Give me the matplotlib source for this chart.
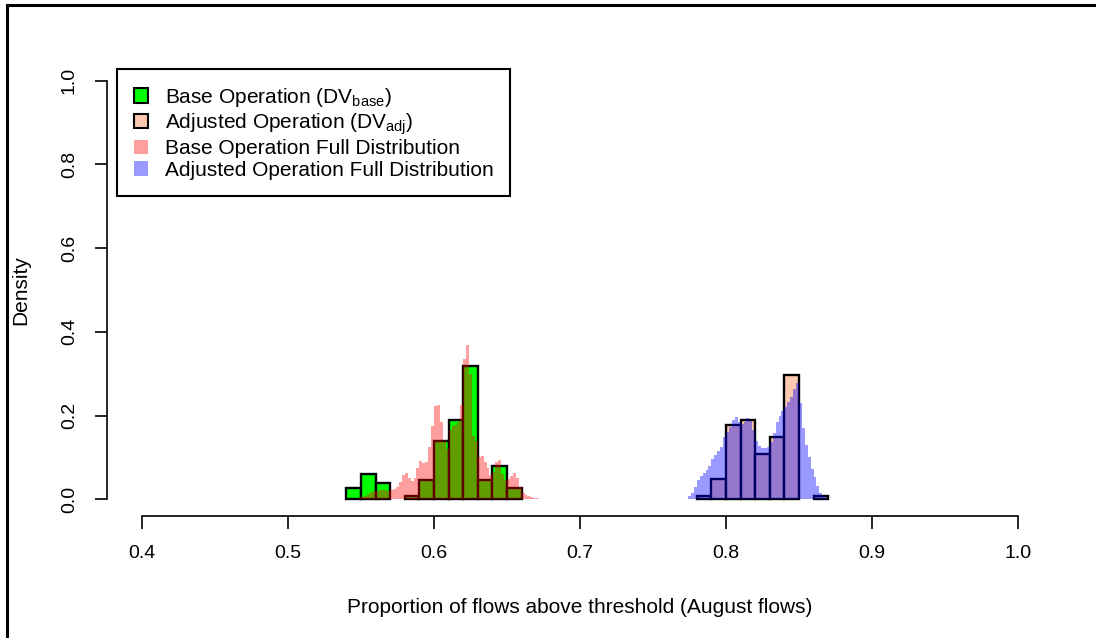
import numpy as np
import matplotlib
matplotlib.use("Agg")
import matplotlib.pyplot as plt
from matplotlib.patches import Patch
from matplotlib.lines import Line2D

# ---------------- data ----------------
bin_width = 0.01
base_edges_start = 0.54
base_props = [0.026, 0.060, 0.039, 0.0, 0.007, 0.047, 0.140, 0.189, 0.318, 0.047, 0.080, 0.026]
adj_edges_start = 0.78
adj_props = [0.008, 0.049, 0.177, 0.189, 0.107, 0.148, 0.297, 0.0, 0.008]

full_bin = 0.002
base_full_start = 0.548
base_full = [0.002, 0.005, 0.007, 0.012, 0.018, 0.020, 0.020, 0.021, 0.022, 0.022,
             0.020, 0.022, 0.025, 0.030, 0.042, 0.058, 0.062, 0.050, 0.043, 0.051,
             0.075, 0.092, 0.086, 0.090, 0.125, 0.175, 0.222, 0.225, 0.185, 0.140,
             0.120, 0.165, 0.175, 0.178, 0.185, 0.225, 0.335, 0.369, 0.300, 0.150,
             0.140, 0.100, 0.104, 0.090, 0.075, 0.058, 0.065, 0.090, 0.095, 0.060,
             0.045, 0.048, 0.055, 0.062, 0.050, 0.030, 0.015, 0.010, 0.007, 0.005,
             0.004, 0.003]
adj_full_start = 0.774
adj_full = [0.008, 0.016, 0.030, 0.046, 0.055, 0.063, 0.071, 0.080, 0.096, 0.106,
            0.116, 0.126, 0.148, 0.160, 0.172, 0.190, 0.197, 0.185, 0.180, 0.185,
            0.193, 0.187, 0.165, 0.140, 0.128, 0.122, 0.122, 0.126, 0.136, 0.158,
            0.185, 0.200, 0.212, 0.220, 0.232, 0.245, 0.263, 0.277, 0.230, 0.170,
            0.130, 0.100, 0.072, 0.052, 0.032, 0.016, 0.008, 0.004]

x_ticks = [0.4, 0.5, 0.6, 0.7, 0.8, 0.9, 1.0]
y_ticks = [0.0, 0.2, 0.4, 0.6, 0.8, 1.0]
legend_labels = [r"Base Operation (DV$_{\mathrm{base}}$)",
                 r"Adjusted Operation (DV$_{\mathrm{adj}}$)",
                 "Base Operation Full Distribution",
                 "Adjusted Operation Full Distribution"]

# ---------------- style ----------------
plt.rcParams["font.family"] = ["Liberation Sans", "DejaVu Sans"]
plt.rcParams["mathtext.fontset"] = "custom"
plt.rcParams["mathtext.rm"] = "Liberation Sans"
plt.rcParams["mathtext.it"] = "Liberation Sans"

GREEN = "#00FF00"
PEACH = "#FCC9AE"
RED_A = (1.0, 0.0, 0.0, 0.38)
BLUE_A = (0.0, 0.0, 1.0, 0.4)

W, H = 1096, 638
fig = plt.figure(figsize=(W / 100, H / 100), dpi=100)
ax = fig.add_axes([107 / W, 1 - 516 / H, (1053 - 107) / W, (516 - 64) / H])

def edges(start, n, w):
    return start + w * np.arange(n + 1)

be = edges(base_edges_start, len(base_props), bin_width)
for l, h in zip(be[:-1], base_props):
    if h > 0:
        ax.bar(l, h, width=bin_width, align="edge", facecolor=GREEN,
               edgecolor="black", linewidth=1.7, zorder=2)
ae = edges(adj_edges_start, len(adj_props), bin_width)
for l, h in zip(ae[:-1], adj_props):
    if h > 0:
        ax.bar(l, h, width=bin_width, align="edge", facecolor=PEACH,
               edgecolor="black", linewidth=1.7, zorder=2)

ax.stairs(base_full, edges(base_full_start, len(base_full), full_bin),
          fill=True, color=RED_A, linewidth=0, zorder=3)
ax.stairs(adj_full, edges(adj_full_start, len(adj_full), full_bin),
          fill=True, color=BLUE_A, linewidth=0, zorder=3)

ax.set_xlim(0.376, 1.024)
ax.set_ylim(-0.04, 1.04)
for s in ["top", "right"]:
    ax.spines[s].set_visible(False)
ax.spines["bottom"].set_bounds(0.4, 1.0)
ax.spines["left"].set_bounds(0.0, 1.0)
for s in ["bottom", "left"]:
    ax.spines[s].set_linewidth(1.2)
ax.set_xticks(x_ticks)
ax.set_xticklabels([f"{v:.1f}" for v in x_ticks])
ax.set_yticks(y_ticks)
ax.set_yticklabels([f"{v:.1f}" for v in y_ticks], rotation=90, va="center")
ax.tick_params(axis="both", length=9, width=1.2, labelsize=14, pad=12)
ax.set_xlabel("Proportion of flows above threshold (August flows)", fontsize=15, labelpad=26)
ax.set_ylabel("Density", fontsize=15, labelpad=22)

handles = [Patch(facecolor=GREEN, edgecolor="black", linewidth=1.5),
           Patch(facecolor=PEACH, edgecolor="black", linewidth=1.5),
           Patch(facecolor=RED_A, edgecolor="none"),
           Patch(facecolor=BLUE_A, edgecolor="none")]
leg = ax.legend(handles, legend_labels, loc="upper left",
                bbox_to_anchor=(10 / 946, (516 - 69) / 452), borderaxespad=0,
                fontsize=15, frameon=True, fancybox=False, framealpha=1,
                edgecolor="black", handlelength=0.7, handleheight=0.7,
                handletextpad=0.8, labelspacing=0.12, borderpad=0.8)
leg.get_frame().set_linewidth(1.5)

# outer frame (left and top)
fig.add_artist(Line2D([6.5 / W, 6.5 / W], [0, 1 - 5 / H], color="black", linewidth=2.2,
                      transform=fig.transFigure))
fig.add_artist(Line2D([6.5 / W, 1.0], [1 - 5 / H, 1 - 5 / H], color="black", linewidth=2.2,
                      transform=fig.transFigure))

fig.savefig("out.png", dpi=100)
